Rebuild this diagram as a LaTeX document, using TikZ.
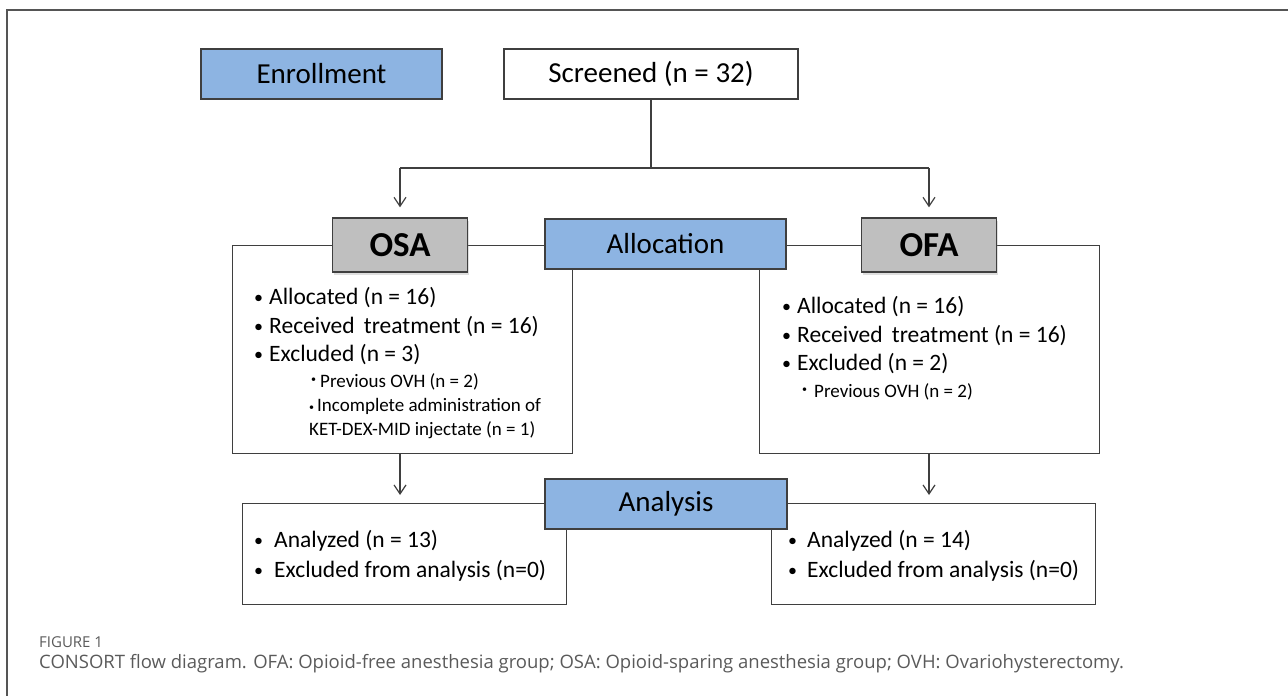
\documentclass[tikz,border=0pt]{standalone}
\usepackage{fontspec}
\setmainfont{Carlito}
\newfontfamily\capfont{Open Sans}
\usetikzlibrary{arrows.meta,shadows}
\definecolor{bluefill}{HTML}{8DB4E2}
\definecolor{grayfill}{HTML}{BFBFBF}
\definecolor{linec}{HTML}{3F3F3F}
\definecolor{capc}{HTML}{5A5A5A}
\definecolor{framec}{HTML}{555555}
\newcommand{\bigbul}[1]{\makebox[#1][l]{\fontsize{18}{18}\selectfont\raisebox{1pt}{•}}}
\newcommand{\subbul}[2]{\makebox[#1][l]{\raisebox{#2}{\fontsize{10}{10}\selectfont •}}}
\begin{document}
\begin{tikzpicture}[x=1pt,y=-1pt,
  box/.style={draw=linec, line width=1.3pt, inner sep=0pt, text=black},
  bluebox/.style={box, fill=bluefill, minimum height=50pt, font=\fontsize{29}{34}\selectfont},
  whitebox/.style={box, fill=white, minimum height=50pt, font=\fontsize{29}{34}\selectfont},
  grpbox/.style={box, fill=grayfill, minimum width=135pt, minimum height=54pt,
    font=\fontsize{35}{40}\selectfont\bfseries,
    drop shadow={opacity=0.25, shadow xshift=1.5pt, shadow yshift=-2.5pt}},
  bigbox/.style={box, fill=white, anchor=north west},
  conn/.style={draw=linec, line width=1.2pt},
  arr/.style={conn, -{Straight Barb[length=9pt,width=12pt,line width=1.2pt]}},
  ln/.style={anchor=west, inner sep=0pt, font=\fontsize{23.5}{28}\selectfont},
  sln/.style={anchor=west, inner sep=0pt, font=\fontsize{19}{23}\selectfont},
]
\useasboundingbox (0,0) rectangle (1288,696);
% frame
\draw[framec, line width=2pt] (7,696) -- (7,10) -- (1288,10);

% top row
\node[bluebox, minimum width=241pt] (enr) at (321.5,74) {Enrollment};
\node[whitebox, minimum width=294pt] (scr) at (651,74) {Screened (n = 32)};

% allocation stage boxes
\node[bigbox, minimum width=340pt, minimum height=208pt] (osabox) at (232,245) {};
\node[bigbox, minimum width=340pt, minimum height=208pt] (ofabox) at (759,245) {};
\node[grpbox] (osa) at (400,245) {OSA};
\node[grpbox] (ofa) at (929,245) {OFA};
\node[bluebox, minimum width=241pt] (alloc) at (665.5,244) {Allocation};

% split connector
\coordinate (split) at (651,168);
\draw[conn] (scr.south) -- (split);
\draw[conn] (osa.north |- split) -- (ofa.north |- split);
\draw[arr, shorten >=10pt] (osa.north |- split) -- (osa.north);
\draw[arr, shorten >=10pt] (ofa.north |- split) -- (ofa.north);

% OSA text
\node[ln] (osa1) at (254,298) {\bigbul{15pt}Allocated (n = 16)};
\node[ln] (osa2) at (254,327) {\bigbul{15pt}Received\, treatment (n = 16)};
\node[ln] (osa3) at (254,355) {\bigbul{15pt}Excluded (n = 3)};
\node[sln] (osa4) at (311,382) {\subbul{9pt}{5pt}Previous OVH (n = 2)};
\node[sln] (osa5) at (309,406) {\subbul{8pt}{1pt}Incomplete administration of};
\node[sln] (osa6) at (309,430) {KET-DEX-MID injectate (n = 1)};

% OFA text
\node[ln] (ofa1) at (782,307) {\bigbul{15pt}Allocated (n = 16)};
\node[ln] (ofa2) at (782,336) {\bigbul{15pt}Received\, treatment (n = 16)};
\node[ln] (ofa3) at (782,364) {\bigbul{15pt}Excluded (n = 2)};
\node[sln] (ofa4) at (802,392) {\subbul{12pt}{5pt}Previous OVH (n = 2)};

% analysis stage
\node[bigbox, minimum width=324pt, minimum height=101pt] (botL) at (242,503) {};
\node[bigbox, minimum width=324pt, minimum height=101pt] (botR) at (771,503) {};
\node[bluebox, minimum width=242pt] (anal) at (666,504) {Analysis};

\draw[arr, shorten >=8pt] (osa.south |- osabox.south) -- (osa.south |- botL.north);
\draw[arr, shorten >=8pt] (ofa.south |- ofabox.south) -- (ofa.south |- botR.north);

\node[ln] (an1) at (254,541) {\bigbul{20pt}Analyzed (n = 13)};
\node[ln] (an2) at (254,571) {\bigbul{20pt}Excluded from analysis (n=0)};
\node[ln] (an3) at (788,541) {\bigbul{19pt}Analyzed (n = 14)};
\node[ln] (an4) at (788,571) {\bigbul{19pt}Excluded from analysis (n=0)};

% caption
\node[anchor=west, inner sep=0pt, text=capc, font=\capfont\fontsize{15}{18}\selectfont] (figlab) at (39,642) {FIGURE 1};
\node[anchor=west, inner sep=0pt, text=capc, font=\capfont\fontsize{18.5}{22}\selectfont] (cap) at (39,664) {CONSORT flow diagram. OFA: Opioid-free anesthesia group; OSA: Opioid-sparing anesthesia group; OVH: Ovariohysterectomy.};
\end{tikzpicture}
\end{document}
